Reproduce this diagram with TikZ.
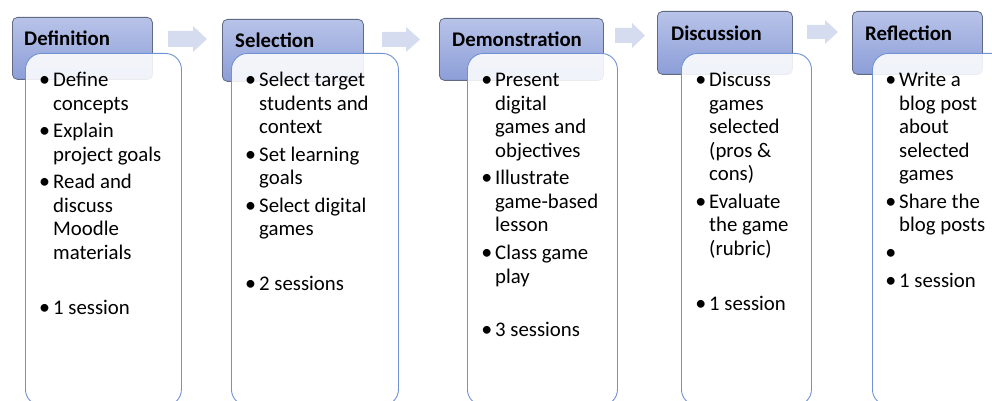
\documentclass[tikz,border=0pt]{standalone}
\usepackage{fontspec}
\setmainfont{Carlito}
\definecolor{hdrtop}{RGB}{184,195,232}
\definecolor{hdrbot}{RGB}{140,158,216}
\definecolor{hdrline}{RGB}{96,106,132}
\definecolor{cline}{RGB}{110,146,212}
\definecolor{arrc}{RGB}{214,220,239}
\newcommand\bul{\leavevmode\llap{{\fontsize{22}{23.5}\selectfont\textbullet}\hspace{3pt}}}
\newcommand\ctext[2]{\parbox[t]{#1}{\fontsize{20.8}{23.5}\selectfont\raggedright #2}}
\tikzset{
  hdr/.style={draw=hdrline, line width=0.8pt, rounded corners=5pt, top color=hdrtop, bottom color=hdrbot, inner sep=0pt, anchor=north west},
  hdrtext/.style={anchor=base west, inner sep=0pt, font=\bfseries\fontsize{20.8}{24}\selectfont},
  cbox/.style={draw=cline, line width=0.9pt, rounded corners=16pt, fill=white, fill opacity=0.88, inner sep=0pt, anchor=north west},
  ctxt/.style={anchor=base west, inner sep=0pt},
  blockarrow/.style={fill=arrc}
}
\begin{document}
\begin{tikzpicture}[x=1pt,y=-1pt]
\useasboundingbox (0,0) rectangle (992,401);
% block arrows
\fill[blockarrow] (168,31) -- (193,31) -- (193,26) -- (207,39) -- (193,52) -- (193,47) -- (168,47) -- cycle;
\fill[blockarrow] (382,32) -- (406,32) -- (406,27) -- (420,39.5) -- (406,52) -- (406,47) -- (382,47) -- cycle;
\fill[blockarrow] (615,28) -- (632,28) -- (632,23) -- (645,35.5) -- (632,48) -- (632,43) -- (615,43) -- cycle;
\fill[blockarrow] (807,25) -- (825,25) -- (825,20) -- (838,32) -- (825,44) -- (825,39) -- (807,39) -- cycle;
% headers
\node[hdr, minimum width=140pt, minimum height=62pt] (h1) at (12,17) {};
\node[hdr, minimum width=141pt, minimum height=62pt] (h2) at (222,19) {};
\node[hdr, minimum width=164pt, minimum height=62pt] (h3) at (439,18) {};
\node[hdr, minimum width=135pt, minimum height=63pt] (h4) at (657,11) {};
\node[hdr, minimum width=130pt, minimum height=63pt] (h5) at (852,11) {};
\node[hdrtext] (t1) at (24,46) {Definition};
\node[hdrtext] (t2) at (235,48) {Selection};
\node[hdrtext] (t3) at (452,47) {Demonstration};
\node[hdrtext] (t4) at (671,41) {Discussion};
\node[hdrtext] (t5) at (865,41) {Reflection};
% content boxes
\node[cbox, minimum width=156pt, minimum height=352pt] (c1) at (25,53) {};
\node[cbox, minimum width=167pt, minimum height=352pt] (c2) at (231,53) {};
\node[cbox, minimum width=150pt, minimum height=352pt] (c3) at (467,53) {};
\node[cbox, minimum width=130pt, minimum height=352pt] (c4) at (681,53) {};
\node[cbox, minimum width=140pt, minimum height=352pt] (c5) at (872,53) {};
% content text
\node[ctxt] (x1) at (53,87) {\ctext{125pt}{\bul Define\\ concepts\\[4pt]
\bul Explain\\ project goals\\[4pt]
\bul Read and\\ discuss\\ Moodle\\ materials\\[31pt]
\bul 1 session}};
\node[ctxt] (x2) at (259,87) {\ctext{135pt}{\bul Select target\\ students and\\ context\\[4pt]
\bul Set learning\\ goals\\[4pt]
\bul Select digital\\ games\\[31pt]
\bul 2 sessions}};
\node[ctxt] (x3) at (495,87) {\ctext{120pt}{\bul Present\\ digital\\ games and\\ objectives\\[4pt]
\bul Illustrate\\ game-based\\ lesson\\[4pt]
\bul Class game\\ play\\[30pt]
\bul 3 sessions}};
\node[ctxt] (x4) at (709,87) {\ctext{100pt}{\bul Discuss\\ games\\ selected\\ (pros \&\\ cons)\\[4pt]
\bul Evaluate\\ the game\\ (rubric)\\[31pt]
\bul 1 session}};
\node[ctxt] (x5) at (899,87) {\ctext{100pt}{\bul Write a\\ blog post\\ about\\ selected\\ games\\[4pt]
\bul Share the\\ blog posts\\[4pt]
\bul\strut\\[4pt]
\bul 1 session}};
\end{tikzpicture}
\end{document}
